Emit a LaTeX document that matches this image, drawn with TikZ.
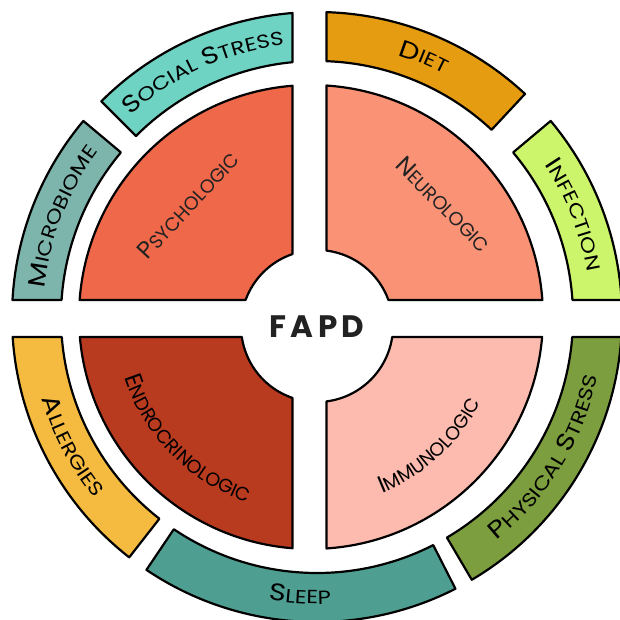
\documentclass[tikz,border=0pt]{standalone}
\usepackage{fontspec}
\setmainfont{Poppins}
\newfontfamily\fapdfont[LetterSpace=14]{Poppins}
\newfontfamily\ringfont[FakeStretch=1.2, LetterSpace=4]{Poppins}
\usetikzlibrary{decorations.text}

\definecolor{socialc}{HTML}{6ED3C3}
\definecolor{microc}{HTML}{7DB5AD}
\definecolor{dietc}{HTML}{E69C10}
\definecolor{infectc}{HTML}{CCF56C}
\definecolor{physc}{HTML}{7C9E3E}
\definecolor{sleepc}{HTML}{4E9F92}
\definecolor{allergc}{HTML}{F5BB40}
\definecolor{psychc}{HTML}{EE6849}
\definecolor{neuroc}{HTML}{FA9376}
\definecolor{endoc}{HTML}{B83A1F}
\definecolor{immunoc}{HTML}{FCBBAE}
\definecolor{labelc}{HTML}{222222}

\newcommand{\capbig}{\fontsize{24pt}{24pt}\selectfont}
\newcommand{\capsmall}{\fontsize{19pt}{19pt}\selectfont}
\newcommand{\ringbig}{\ringfont\fontsize{24pt}{24pt}\selectfont}
\newcommand{\ringsmall}{\ringfont\fontsize{19pt}{19pt}\selectfont}

\begin{document}
\begin{tikzpicture}
            [every node/.style={inner sep=0pt, text=labelc},
             part/.style={draw=black, line width=2.2pt, line join=round},
             ringtext/.style={decorate, decoration={text along path, text align=center, text={#1}}}]
                \useasboundingbox (-309.5pt,-301.5pt) rectangle (310.5pt,318.5pt);
                \draw [part, fill=neuroc] ([shift={(1.5pt,1.5pt)}]4.2:232pt) arc[start angle=4.2, end angle=86.17, radius=232pt] -- ([shift={(7.5pt,-7.5pt)}]82.82:76pt) arc[start angle=82.82, end angle=20, radius=76pt] -- cycle;
                \draw [part, fill=psychc] ([shift={(1.5pt,1.5pt)}]94.57:232pt) arc[start angle=94.57, end angle=175.8, radius=232pt] -- ([shift={(7.5pt,-7.5pt)}]160:76pt) arc[start angle=160, end angle=108.81, radius=76pt] -- cycle;
                \draw [part, fill=endoc] ([shift={(1.5pt,1.5pt)}]184.95:232pt) arc[start angle=184.95, end angle=265.43, radius=232pt] -- ([shift={(7.5pt,-7.5pt)}]251.19:76pt) arc[start angle=251.19, end angle=188.32, radius=76pt] -- cycle;
                \draw [part, fill=immunoc] ([shift={(1.5pt,1.5pt)}]273.83:232pt) arc[start angle=273.83, end angle=355.05, radius=232pt] -- ([shift={(7.5pt,-7.5pt)}]351.68:76pt) arc[start angle=351.68, end angle=277.18, radius=76pt] -- cycle;
                \begin{scope}[shift={(7.5pt,1.5pt)}]
                \draw [part, fill=dietc] (88.22:305pt) arc[start angle=88.22, end angle=47, radius=305pt] -- (47:256pt) arc[start angle=47, end angle=87.87, radius=256pt] -- cycle;
                \draw [part, fill=socialc] (94.61:305pt) arc[start angle=94.61, end angle=135, radius=305pt] -- (135:256pt) arc[start angle=135, end angle=95.49, radius=256pt] -- cycle;
                \draw [part, fill=microc] (140:305pt) arc[start angle=140, end angle=176.8, radius=305pt] -- (176.19:256pt) arc[start angle=176.19, end angle=140, radius=256pt] -- cycle;
                \draw [part, fill=allergc] (183.76:305pt) arc[start angle=183.76, end angle=232, radius=305pt] -- (232:256pt) arc[start angle=232, end angle=184.48, radius=256pt] -- cycle;
                \draw [part, fill=sleepc] (236:305pt) arc[start angle=236, end angle=297, radius=305pt] -- (297:256pt) arc[start angle=297, end angle=236, radius=256pt] -- cycle;
                \draw [part, fill=physc] (300.5:305pt) arc[start angle=300.5, end angle=356.24, radius=305pt] -- (355.52:256pt) arc[start angle=355.52, end angle=300.5, radius=256pt] -- cycle;
                \draw [part, fill=infectc] (3.2:305pt) arc[start angle=3.2, end angle=40, radius=305pt] -- (40:256pt) arc[start angle=40, end angle=3.81, radius=256pt] -- cycle;
                \path [ringtext={|\ringbig|D|\ringsmall|IET}] (88.22:274pt) arc[start angle=88.22, end angle=47, radius=274pt];
                \path [ringtext={|\ringbig|S|\ringsmall|OCIAL |\ringbig|S|\ringsmall|TRESS}] (135:274pt) arc[start angle=135, end angle=94.61, radius=274pt];
                \path [ringtext={|\ringbig|M|\ringsmall|ICROBIOME}] (176.8:274pt) arc[start angle=176.8, end angle=140, radius=274pt];
                \path [ringtext={|\ringbig|I|\ringsmall|NFECTION}] (40:274pt) arc[start angle=40, end angle=3.2, radius=274pt];
                \path [ringtext={|\ringbig|A|\ringsmall|LLERGIES}] (183.76:287pt) arc[start angle=183.76, end angle=232, radius=287pt];
                \path [ringtext={|\ringbig|S|\ringsmall|LEEP}] (236:287pt) arc[start angle=236, end angle=297, radius=287pt];
                \path [ringtext={|\ringbig|P|\ringsmall|HYSICAL |\ringbig|S|\ringsmall|TRESS}] (300.5:287pt) arc[start angle=300.5, end angle=356.24, radius=287pt];
                \end{scope}
                \node (psych) [rotate=47] at (-121.5pt, 113.5pt) {\capbig P\capsmall SYCHOLOGIC};
                \node (neuro) [rotate=-45] at (134pt, 114.5pt) {\capbig N\capsmall EUROLOGIC};
                \path [ringtext={|\capbig|E|\capsmall|NDROCRINOLOGIC}] ([shift={(1.5pt,1.5pt)}]185:196pt) arc[start angle=185, end angle=264, radius=196pt];
                \path [ringtext={|\capbig|I|\capsmall|MMUNOLOGIC}] ([shift={(1.5pt,1.5pt)}]273.8:190pt) arc[start angle=273.8, end angle=351.4, radius=190pt];
                \node (fapd) at (7.5pt, -8.5pt) {\fapdfont\bfseries\fontsize{31pt}{31pt}\selectfont FAPD};
            \end{tikzpicture}
\end{document}
